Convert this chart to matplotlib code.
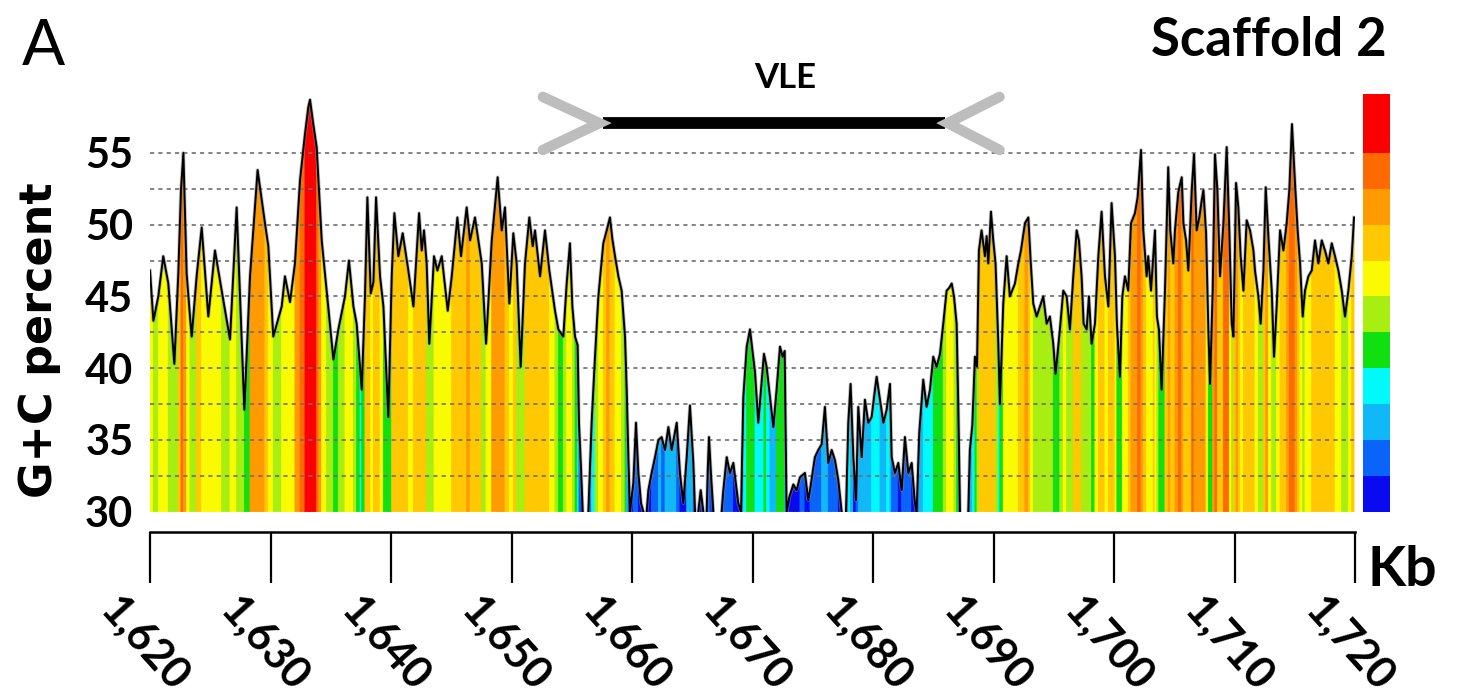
import numpy as np
import matplotlib
matplotlib.use("Agg")
import matplotlib.pyplot as plt
import matplotlib.transforms as mtransforms
from matplotlib.colors import ListedColormap, BoundaryNorm
from matplotlib.collections import PolyCollection

plt.rcParams['font.family'] = ['Lato', 'DejaVu Sans']

# ---------------- data ----------------
kb = [1620.00, 1620.28, 1620.69, 1621.10, 1621.52, 1622.02, 1622.35, 1622.57, 1622.77, 1623.04,
      1623.32, 1623.46, 1623.87, 1624.29, 1624.84, 1625.39, 1625.95, 1626.64, 1627.19, 1627.83,
      1628.30, 1628.93, 1629.54, 1629.82, 1630.23, 1630.93, 1631.20, 1631.62, 1632.03, 1632.45,
      1632.86, 1633.14, 1633.28, 1633.55, 1633.83, 1634.02, 1634.25, 1634.66, 1635.22, 1635.63,
      1636.18, 1636.51, 1636.88, 1637.15, 1637.43, 1637.57, 1637.84, 1638.04, 1638.32, 1638.54,
      1638.76, 1639.09, 1639.37, 1639.78, 1640.06, 1640.28, 1640.61, 1640.97, 1641.44, 1641.86,
      1642.33, 1642.55, 1642.74, 1642.96, 1643.18, 1643.57, 1643.85, 1644.21, 1644.71, 1645.04,
      1645.51, 1645.81, 1646.28, 1646.56, 1646.97, 1647.53, 1647.89, 1648.36, 1648.85, 1649.19,
      1649.46, 1649.82, 1650.15, 1650.43, 1650.76, 1651.12, 1651.48, 1651.76, 1651.95, 1652.37,
      1652.78, 1653.14, 1653.61, 1653.89, 1654.30, 1654.58, 1654.85, 1655.05, 1655.27, 1655.49,
      1655.60, 1655.77, 1655.91, 1656.38, 1656.65, 1656.93, 1657.21, 1657.62, 1657.90, 1658.17,
      1658.37, 1658.59, 1658.87, 1659.14, 1659.42, 1659.56, 1659.70, 1659.83, 1660.11, 1660.33,
      1660.53, 1660.75, 1660.94, 1661.22, 1661.36, 1661.63, 1661.91, 1662.19, 1662.46, 1662.74,
      1663.02, 1663.29, 1663.71, 1663.98, 1664.26, 1664.54, 1664.81, 1665.09, 1665.23, 1665.50,
      1665.70, 1665.92, 1666.20, 1666.28, 1666.39, 1666.56, 1666.75, 1667.44, 1667.58, 1667.86,
      1668.13, 1668.41, 1668.82, 1669.05, 1669.24, 1669.52, 1669.79, 1670.21, 1670.48, 1670.95,
      1671.17, 1671.45, 1671.73, 1672.00, 1672.28, 1672.50, 1672.67, 1672.83, 1673.05, 1673.39,
      1673.66, 1673.94, 1674.35, 1674.63, 1674.77, 1675.18, 1675.46, 1675.74, 1676.01, 1676.29,
      1676.57, 1676.84, 1677.12, 1677.40, 1677.76, 1677.95, 1678.14, 1678.37, 1678.59, 1678.78,
      1679.06, 1679.33, 1679.61, 1679.89, 1680.16, 1680.30, 1680.58, 1680.86, 1681.13, 1681.41,
      1681.55, 1681.82, 1682.10, 1682.38, 1682.65, 1682.93, 1683.21, 1683.48, 1683.62, 1683.84,
      1684.17, 1684.45, 1684.73, 1685.00, 1685.28, 1685.56, 1685.83, 1686.11, 1686.33, 1686.53,
      1686.72, 1686.94, 1687.08, 1687.22, 1687.91, 1688.04, 1688.24, 1688.46, 1688.63, 1688.79,
      1689.01, 1689.29, 1689.43, 1689.57, 1689.79, 1689.98, 1690.17, 1690.40, 1690.53, 1690.81,
      1691.09, 1691.36, 1691.78, 1692.06, 1692.28, 1692.61, 1692.89, 1693.08, 1693.30, 1693.58,
      1694.13, 1694.41, 1694.68, 1694.96, 1695.15, 1695.51, 1695.79, 1696.07, 1696.34, 1696.62,
      1696.90, 1697.09, 1697.31, 1697.48, 1697.73, 1697.92, 1698.14, 1698.42, 1698.70, 1698.97,
      1699.25, 1699.53, 1699.80, 1700.08, 1700.24, 1700.49, 1700.69, 1700.91, 1701.18, 1701.41,
      1701.74, 1701.96, 1702.24, 1702.43, 1702.71, 1702.84, 1703.07, 1703.26, 1703.40, 1703.56,
      1703.73, 1703.95, 1704.23, 1704.50, 1704.67, 1704.92, 1705.06, 1705.34, 1705.62, 1705.76,
      1705.98, 1706.17, 1706.45, 1706.64, 1706.86, 1707.08, 1707.28, 1707.42, 1707.64, 1707.83,
      1707.97, 1708.19, 1708.38, 1708.58, 1708.80, 1709.08, 1709.35, 1709.57, 1709.77, 1709.91,
      1710.13, 1710.32, 1710.51, 1710.74, 1711.01, 1711.29, 1711.57, 1711.70, 1711.98, 1712.17,
      1712.40, 1712.59, 1712.81, 1713.09, 1713.28, 1713.50, 1713.78, 1714.06, 1714.33, 1714.55,
      1714.77, 1715.02, 1715.24, 1715.44, 1715.66, 1715.85, 1716.13, 1716.41, 1716.68, 1716.96,
      1717.24, 1717.51, 1717.79, 1718.07, 1718.34, 1718.62, 1718.90, 1719.17, 1719.45, 1719.73,
      1719.92]

gc_percent = [46.8, 43.3, 45.0, 47.8, 45.9, 40.3, 46.6, 52.4, 55.0, 46.6,
              43.6, 42.2, 46.4, 49.8, 43.6, 48.2, 45.4, 42.0, 51.2, 37.1,
              46.4, 53.8, 50.1, 48.5, 42.2, 44.3, 46.4, 44.6, 47.3, 53.1,
              56.3, 58.2, 58.7, 57.0, 55.4, 52.4, 48.9, 45.4, 40.6, 42.7,
              45.0, 47.5, 44.3, 43.1, 40.1, 38.5, 45.0, 51.9, 45.2, 46.0,
              51.9, 46.4, 44.3, 36.6, 46.4, 50.8, 47.8, 49.4, 46.8, 44.3,
              50.8, 48.2, 49.6, 47.3, 41.7, 47.8, 46.8, 47.8, 44.0, 46.4,
              50.5, 47.8, 51.2, 48.9, 50.5, 47.3, 41.7, 48.9, 53.3, 49.6,
              51.2, 44.5, 49.4, 47.3, 40.1, 47.3, 50.5, 48.5, 49.6, 46.4,
              49.6, 46.8, 44.0, 42.7, 42.2, 45.9, 48.7, 44.3, 42.2, 41.6,
              36.2, 33.0, 30.0, 30.0, 36.2, 40.8, 45.0, 48.7, 49.6, 50.5,
              49.0, 47.8, 46.4, 45.4, 42.2, 38.5, 33.8, 30.0, 32.0, 36.2,
              32.7, 30.6, 30.0, 30.0, 31.5, 32.7, 33.8, 35.0, 35.2, 34.3,
              35.9, 34.3, 36.2, 32.7, 30.6, 33.8, 37.4, 33.4, 30.0, 30.0,
              31.5, 30.0, 30.0, 32.7, 35.2, 32.5, 30.0, 30.0, 31.5, 33.8,
              32.7, 33.4, 30.6, 30.0, 38.0, 41.5, 42.7, 39.7, 36.2, 41.0,
              40.1, 38.0, 35.9, 38.5, 41.5, 40.8, 41.2, 30.0, 31.0, 31.9,
              31.5, 32.4, 32.7, 30.8, 31.5, 33.8, 34.3, 34.7, 37.3, 33.4,
              34.3, 33.6, 32.2, 30.0, 30.0, 36.2, 38.9, 33.8, 30.8, 37.3,
              33.8, 37.8, 36.2, 36.6, 38.5, 39.4, 37.8, 36.2, 37.1, 38.9,
              33.8, 32.7, 33.4, 31.5, 35.2, 32.7, 33.4, 30.6, 30.0, 35.5,
              39.2, 37.3, 38.5, 40.8, 40.1, 41.0, 43.1, 45.4, 45.6, 45.9,
              45.0, 43.1, 37.3, 30.0, 30.0, 34.3, 36.0, 40.8, 40.1, 48.2,
              49.6, 47.8, 49.2, 47.3, 50.9, 48.9, 47.3, 41.7, 37.5, 44.5,
              47.8, 45.0, 45.9, 47.3, 48.2, 50.1, 50.5, 47.5, 44.5, 43.6,
              45.0, 43.1, 43.6, 41.7, 39.6, 42.7, 45.4, 45.0, 42.7, 46.4,
              49.6, 48.9, 46.4, 43.1, 42.7, 45.0, 41.7, 43.1, 47.8, 50.9,
              46.4, 44.3, 51.5, 47.8, 43.1, 39.4, 45.0, 46.4, 45.4, 50.1,
              50.8, 51.9, 55.2, 49.6, 46.4, 47.8, 45.4, 47.8, 49.6, 43.6,
              42.7, 38.5, 45.4, 54.0, 49.6, 47.3, 49.6, 52.3, 53.3, 50.1,
              48.9, 46.8, 52.4, 54.9, 49.6, 50.5, 51.7, 52.4, 49.4, 42.7,
              38.9, 45.4, 54.9, 52.4, 46.4, 50.1, 55.4, 49.6, 43.1, 42.2,
              52.9, 51.2, 47.8, 45.4, 50.3, 49.6, 48.2, 46.8, 45.0, 43.1,
              46.8, 52.6, 49.2, 45.4, 40.8, 44.3, 49.6, 48.2, 50.1, 52.4,
              57.0, 52.9, 49.6, 47.3, 43.6, 45.4, 46.4, 46.8, 48.9, 47.3,
              48.9, 48.2, 47.3, 48.7, 47.8, 46.8, 45.4, 43.6, 45.4, 47.8,
              50.5]

x_ticks = [1620, 1630, 1640, 1650, 1660, 1670, 1680, 1690, 1700, 1710, 1720]
x_tick_labels = ['1,620', '1,630', '1,640', '1,650', '1,660', '1,670',
                 '1,680', '1,690', '1,700', '1,710', '1,720']
y_ticks = [30, 35, 40, 45, 50, 55]
y_tick_labels = ['30', '35', '40', '45', '50', '55']
grid_levels = [32.5, 35, 37.5, 40, 42.5, 45, 47.5, 50, 52.5, 55]
level_bounds = [30, 32.5, 35, 37.5, 40, 42.5, 45, 47.5, 50, 52.5, 55, 60]
level_colors = ['#0a0af0', '#0a64fa', '#10b8f8', '#00fafa', '#10e010', '#a8ee10',
                '#fafa00', '#ffc800', '#ff9a00', '#ff6a00', '#fa0000']
vle_start, vle_end = 1657.6, 1686.0

# ---------------- figure ----------------
W, H = 1484, 698
fig = plt.figure(figsize=(W / 100, H / 100), dpi=100)


def rect(l, t, r, b):
    return [l / W, 1 - b / H, (r - l) / W, (b - t) / H]


Y_TOP = 59.1
BASE = 30
ax = fig.add_axes(rect(150, 94, 1355, 511.7))
ax.set_xlim(x_ticks[0], x_ticks[-1])
ax.set_ylim(BASE, Y_TOP)

x = np.asarray(kb, dtype=float)
y = np.asarray(gc_percent, dtype=float)
cmap = ListedColormap(level_colors)
norm = BoundaryNorm(level_bounds, cmap.N)

# coloured columns under the profile (one per segment of the profile)
keep = [i for i in range(len(x) - 1) if not (y[i] <= BASE and y[i + 1] <= BASE)]
verts = [[(x[i], BASE), (x[i], y[i]), (x[i + 1], y[i + 1]), (x[i + 1], BASE)] for i in keep]
cols = cmap(norm((y[keep] + y[np.array(keep) + 1]) / 2))
pc = PolyCollection(verts, facecolors=cols, edgecolors=cols, linewidths=0.6, zorder=1)
ax.add_collection(pc)

for g in grid_levels:
    ax.axhline(g, color='#6e6e6e', lw=1.2, ls=(0, (2.5, 2.5)), zorder=2)

# outline: break it where the profile lies on the baseline
lx, ly = [x[0]], [y[0]]
for i in range(1, len(x)):
    if y[i] <= BASE and y[i - 1] <= BASE:
        lx.append(np.nan)
        ly.append(np.nan)
    lx.append(x[i])
    ly.append(y[i])
ax.plot(lx, ly, color='#8a8a8a', lw=2.6, zorder=3, alpha=0.55)
ax.plot(lx, ly, color='black', lw=1.4, zorder=4)

for s in ax.spines.values():
    s.set_visible(False)
ax.set_xticks([])
ax.set_yticks(y_ticks, y_tick_labels)
ax.tick_params(axis='y', length=0, pad=12, labelsize=30)
for t in ax.get_yticklabels():
    t.set_fontweight('bold')

# VLE annotation
yv = 57.07
ax.plot([vle_start, vle_end], [yv, yv], color='black', lw=8.5,
        solid_capstyle='butt', clip_on=False, zorder=5)
ax.plot([1652.6, 1657.3, 1652.6], [58.9, yv, 55.2], color='#bdbdbd', lw=7.5,
        solid_capstyle='round', solid_joinstyle='miter', clip_on=False, zorder=5)
ax.plot([1690.5, 1686.2, 1690.5], [58.9, yv, 55.2], color='#bdbdbd', lw=7.5,
        solid_capstyle='round', solid_joinstyle='miter', clip_on=False, zorder=5)
fig.text(785 / W, 1 - 78 / H, 'VLE', ha='center', va='center', fontsize=25,
         fontweight='bold')

# colour scale bar
axc = fig.add_axes(rect(1363, 94, 1390, 511.7))
axc.set_xlim(0, 1)
axc.set_ylim(BASE, Y_TOP)
for i in range(len(level_colors)):
    axc.bar(0.5, level_bounds[i + 1] - level_bounds[i], bottom=level_bounds[i],
            width=1, color=level_colors[i], linewidth=0)
axc.axis('off')

# separate kb axis underneath
axx = fig.add_axes(rect(150, 532, 1355, 583))
axx.set_xlim(x_ticks[0], x_ticks[-1])
axx.set_ylim(0, 1)
for k in ['left', 'right', 'bottom']:
    axx.spines[k].set_visible(False)
axx.spines['top'].set_linewidth(1.8)
axx.vlines(x_ticks, 0, 1, color='black', lw=1.6, clip_on=False)
axx.set_yticks([])
axx.set_xticks(x_ticks, x_tick_labels, rotation=-48)
axx.tick_params(axis='x', length=0, pad=5, labelsize=31)
shift = mtransforms.ScaledTranslation(-6 / 100, 0, fig.dpi_scale_trans)
for t in axx.get_xticklabels():
    t.set_fontweight('bold')
    t.set_transform(t.get_transform() + shift)

fig.text(1367 / W, 1 - 570 / H, 'Kb', ha='left', va='center', fontsize=40,
         fontweight='bold')
fig.text(22 / W, 1 - 47 / H, 'A', ha='left', va='center', fontsize=46)
fig.text(1387 / W, 1 - 40 / H, 'Scaffold 2', ha='right', va='center', fontsize=38,
         fontweight='bold')
fig.text(40 / W, 1 - 340 / H, 'G+C percent', ha='center', va='center', rotation=90,
         fontsize=32, fontweight='bold', family=['DejaVu Sans'])

fig.savefig('out.png', dpi=100)
